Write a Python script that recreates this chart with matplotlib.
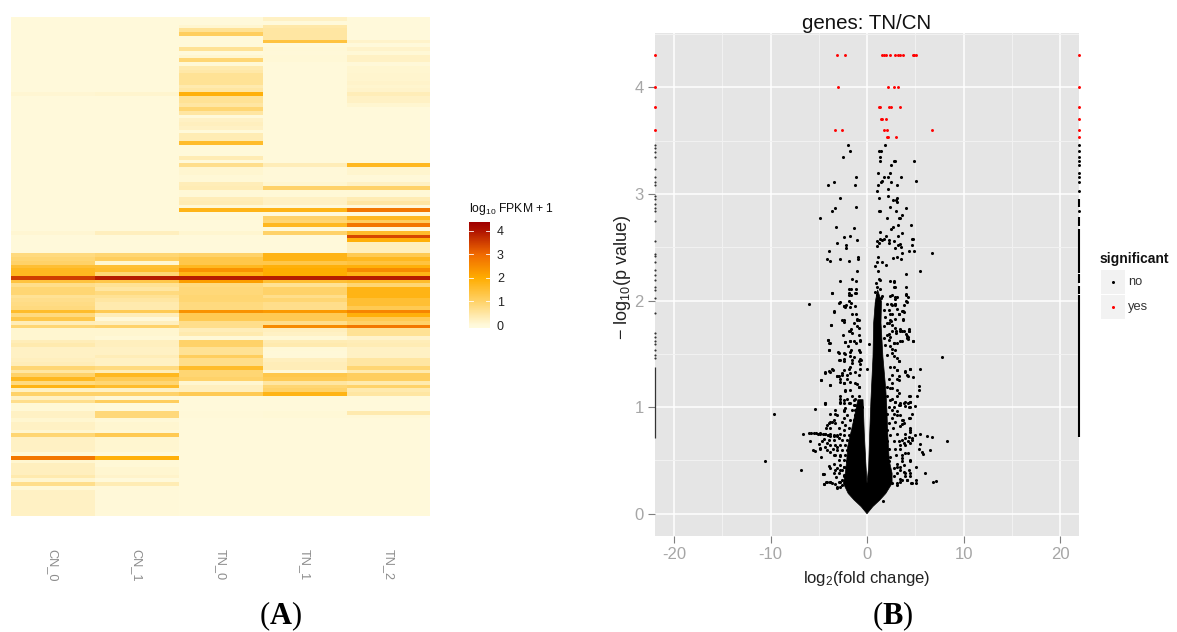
import matplotlib
matplotlib.use("Agg")
import matplotlib.pyplot as plt
import numpy as np
from matplotlib.colors import LinearSegmentedColormap, Normalize
from matplotlib.lines import Line2D
from matplotlib.patches import Rectangle

plt.rcParams["font.family"] = ["Liberation Sans", "DejaVu Sans"]
plt.rcParams["mathtext.fontset"] = "custom"
plt.rcParams["mathtext.rm"] = "Liberation Sans"
plt.rcParams["mathtext.bf"] = "Liberation Serif:bold"
plt.rcParams["mathtext.default"] = "regular"
plt.rcParams["axes.unicode_minus"] = False

# heatmap: log10 FPKM + 1, one list per sample, top row first
samples = ["CN_0", "CN_1", "TN_0", "TN_1", "TN_2"]
cn_0 = ([0] * 20 + [.08] + [0] * 36 + [.08] + [0] * 5 +
        [.8, .9, 1.0, 1.5, 1.7, 1.7, 3.5, 1.4, .7, .9, .9, .6, .7, .75, .8, 1.6, .8, 1.3, .3, .9,
         .1, .1, .1, .3, .4, .2, .2, .2, .25, .3, .9, .5, 1.0, 1.7, .8, 1.8, .2, 1.0, .2, .7,
         .05, .05, .2, .2, .1, .2, .2, .1, .9, .2, .2, .2, .2, .05, 2.8, .1, .25, .25, .25, .4,
         .1, .7, .05] + [.2] * 7)
cn_1 = ([0] * 20 + [.12] + [0] * 36 + [.25] + [0] * 5 +
        [.9, 1.1, .1, 1.5, 1.6, .9, 3.9, 1.3, .6, .5, .8, .6, .5, .4, .4, 1.2, .3, .03, .25, 1.0,
         .1, .1, .05, .25, .25, .2, .2, .3, .2, .2, .8, .3, 1.7, 1.2, .9, 1.6, .2, 1.0, .05, 1.1,
         0, 0, .85, .85, .05, .1, .1, .05, 1.2, .1, .1, .1, .1, 0, 1.9, .05, .05, .1, .1, .15,
         0, .35, .02] + [.02] * 7)
tn_0 = ([0, 0, .1, .6, 1.1, 0, 0, 0, .6, 0, .1, .9, .05, .4, .45, .6, .6, .6, .4, .5,
         1.9, .6, .6, .5, .9, .5, 0, .2, .25, .2, 0, .35, .35, 1.6, 0, 0, 0, .35, 0, .7,
         .1, .1, .05, .05, .3, .35, .05, .05, .3, .35, .05, 1.8, 0, .05, 0, 0, 0, .1] + [0] * 5 +
        [1.0, 1.3, 1.3, 1.7, 2.4, 1.8, 3.9, 2.2, .8, .85, .85, .9, .9, .8, .8, 2.4, 1.2, 1.2, .7, .7,
         .3, .4, .05, 1.0, 1.0, .6, .6, 1.1, .7, .7, 1.6, .9, .9, 1.0, .1, .25, .25, 1.2] +
        [0] * 4 + [.03, .03] + [0] * 26)
tn_1 = ([.2, 0, .45, .5, .5, .5, 1.4, 0, .05, .02, .05, .05] + [0] * 27 +
        [.3, .03, .03, .03, .03, .1, 1.0, .05, .05, .2, .2, 0, 1.8, 0, 1.0, .9, 1.7, 0, 1.0] + [0] * 5 +
        [1.8, 1.8, 1.3, 1.9, 2.0, 2.0, 3.9, 1.5, .6, 1.0, 1.0, .7, .9, .7, .7, 2.3, 1.2, 1.2, .7, 2.5,
         .25, .2, .05, .35, .4, .05, .02, .02, .25, .3, .3, .03, 1.3, 1.2, .5, .9, 1.0, 1.8] +
        [0] * 4 + [.04, .04] + [0] * 26)
tn_2 = ([0] * 6 + [.15, 0, .15, .05, .2, .2, .03, .1, .1, .12, .12, .15, .12, .15, .3, .2, .2, .1] + [0] * 15 +
        [1.7, .12, .12, .03, .03, .2, 1.0, .05, .05, .35, .5, 0, 2.8, 0, 1.7, 1.1, 2.8, 0, 1.6, 3.4, 1.9,
         .25, .25, .25] +
        [1.2, 1.7, 1.4, 1.9, 2.5, 1.8, 3.9, 1.6, .9, 1.8, 1.8, 1.8, 1.5, 1.5, 1.2, 2.6, 1.9, 1.2, 1.0, 2.8,
         .6, .6, .15, .3, .35, .2, .2, .2, .5, .5, .9, .4, 1.1, 1.1, .4, 1.0, .4, .5] +
        [0] * 4 + [.4, .05] + [0] * 26)
colour_values = [-.14, 0, 1, 2, 3, 4, 4.36]
colour_list = ["#FFFBDD", "#FFF9DA", "#FFD268", "#FFAC00", "#F06A00", "#B01400", "#A00000"]

# volcano: red points (significant), log2 fold change / -log10 p
sig_points = [(-3.07, 4.3), (-2.31, 4.3), (1.55, 4.3), (1.8, 4.3), (2.0, 4.3), (2.35, 4.3), (2.94, 4.3), (3.18, 4.3),
              (3.45, 4.3), (3.7, 4.3), (4.73, 4.3), (4.9, 4.3), (5.04, 4.3),
              (-2.97, 4.0), (2.18, 4.0), (2.76, 4.0), (3.18, 4.0),
              (1.2, 3.82), (1.38, 3.82), (2.28, 3.82), (2.5, 3.82), (3.42, 3.82),
              (1.42, 3.7), (1.59, 3.7), (1.93, 3.7),
              (-3.28, 3.6), (-2.63, 3.6), (1.73, 3.6), (2.04, 3.6), (6.7, 3.6),
              (2.04, 3.53), (2.21, 3.53), (2.97, 3.53),
              (-22, 4.3), (-22, 4.0), (-22, 3.82), (-22, 3.6),
              (22, 4.3), (22, 4.0), (22, 3.82), (22, 3.7), (22, 3.6), (22, 3.53)]

# volcano: black points that can be told apart
upper_left = [(-1.93, 3.46), (-1.73, 3.4), (-2.52, 3.35), (-1.17, 3.16), (-3.39, 3.11), (-4.08, 3.08), (-1.28, 3.08),
              (-2.83, 2.96), (-3.28, 2.87), (-3.63, 2.84), (-1.17, 2.88), (-4.87, 2.77), (-3.18, 2.69), (-1.38, 2.68),
              (-1.73, 2.61), (-2.38, 2.6), (-1.07, 2.57), (-3.07, 2.54), (-2.18, 2.52), (-2.18, 2.49), (-3.97, 2.46),
              (-4.18, 2.39), (-3.87, 2.37), (-2.83, 2.39), (-1.83, 2.37), (-.93, 2.41), (-.93, 2.39), (-1.04, 2.28),
              (-1.55, 2.2), (-2.8, 2.18), (-1.14, 2.18), (-1.87, 2.11), (-1.66, 2.11), (-1.14, 2.11), (-1.87, 2.07),
              (-1.14, 2.07), (-3.63, 2.07), (-1.62, 2.05), (-2.83, 1.99), (-2.42, 1.95), (-2.21, 1.96), (-1.69, 1.98),
              (-1.21, 1.95), (-6.04, 1.97)]
upper_right = [(1.87, 3.46), (1.21, 3.4), (1.42, 3.4), (1.31, 3.35), (1.31, 3.31), (2.83, 3.31), (2.52, 3.27), (1.17, 3.2),
               (2.42, 3.2), (1.73, 3.16), (2.14, 3.16), (1.55, 3.12), (1.42, 3.11), (2.52, 3.11), (1.11, 3.08), (3.07, 3.08),
               (2.18, 3.05), (1.07, 3.03), (1.21, 2.96), (2.21, 2.98), (2.66, 2.94), (3.07, 2.96), (3.07, 2.92), (1.21, 2.84),
               (1.38, 2.84), (2.42, 2.88), (3.04, 2.84), (2.04, 2.77), (3.39, 2.77), (1.35, 2.64), (2.69, 2.69), (2.49, 2.67),
               (3.21, 2.71), (1.93, 2.61), (1.31, 2.58), (1.04, 2.56), (1.55, 2.57), (1.8, 2.58), (2.25, 2.57), (2.76, 2.56),
               (3.18, 2.61), (1.04, 2.51), (1.24, 2.54), (2.31, 2.54), (3.18, 2.52), (2.94, 2.49), (1.11, 2.41), (1.04, 2.36),
               (1.55, 2.36), (1.97, 2.33), (3.11, 2.41), (2.69, 2.4), (.86, 2.32), (1.11, 2.28), (1.21, 2.2), (1.38, 2.19),
               (2.35, 2.18), (2.76, 2.18), (.93, 2.16), (1.04, 2.13), (1.38, 2.11), (.86, 2.08), (2.83, 2.13), (2.59, 2.05),
               (1.04, 2.05), (1.45, 2.02), (.97, 1.98), (1.21, 1.97), (2.49, 1.97), (2.94, 1.97), (1.14, 1.93),
               (2.87, 3.31), (4.9, 3.31), (3.52, 3.16), (5.11, 3.12), (3.04, 2.94), (4.08, 2.87), (3.66, 2.8), (3.32, 2.77),
               (4.56, 2.71), (3.66, 2.63), (4.7, 2.58), (4.8, 2.58), (4.66, 2.52), (3.45, 2.53), (3.52, 2.5), (4.32, 2.46),
               (4.87, 2.46), (6.7, 2.45), (3.66, 2.45), (3.52, 2.39), (5.46, 2.28), (4.08, 2.25), (2.76, 2.17), (2.87, 2.13),
               (4.08, 2.13), (4.08, 2.06), (4.21, 2.03), (4.08, 2.0), (2.94, 2.03), (3.11, 2.03), (2.87, 1.97), (3.77, 1.9),
               (3.32, 1.87), (3.77, 1.83), (2.87, 1.83), (2.52, 1.81), (2.63, 1.71), (3.45, 1.73), (4.32, 1.73), (3.59, 1.71),
               (2.97, 1.71), (4.08, 1.69), (4.21, 1.66)]
lower_left = [(-3.39, 1.9), (-3.73, 1.77), (-2.42, 1.82), (-1.04, 1.82), (-.86, 1.74), (-1.8, 1.71), (-1.55, 1.7), (-4.04, 1.63),
              (-3.9, 1.6), (-3.94, 1.54), (-2.31, 1.61), (-1.73, 1.62), (-.69, 1.62), (-3.01, 1.52), (-2.35, 1.51), (-1.66, 1.54),
              (-.86, 1.54), (-2.83, 1.44), (-.86, 1.43), (-.69, 1.45), (-1.8, 1.48), (-2.42, 1.43), (-1.55, 1.41), (-3.63, 1.36),
              (-3.97, 1.34), (-4.39, 1.33), (-1.73, 1.32), (-2.59, 1.3), (-3.11, 1.29), (-2.76, 1.26), (-.86, 1.3), (-1.28, 1.23),
              (-4.73, 1.25), (-3.8, 1.21), (-2.42, 1.23), (-2.25, 1.15), (-1.73, 1.24), (-.86, 1.19), (-2.76, 1.08), (-4.32, 1.03),
              (-5.42, .98), (-2.42, 1.04), (-1.38, 1.07), (-9.67, .94), (-3.28, .94), (-2.42, .97), (-1.21, .93), (-3.8, .86),
              (-4.15, .83), (-3.45, .88), (-2.42, .9), (-6.67, .75), (-5.98, .76), (-5.77, .76), (-5.53, .76), (-5.32, .76),
              (-5.11, .75), (-4.84, .755), (-4.32, .746), (-4.04, .74), (-3.8, .73), (-3.45, .733), (-3.11, .73), (-5.94, .68),
              (-5.63, .6), (-5.39, .586), (-5.01, .65), (-4.84, .62), (-4.77, .53), (-4.15, .6), (-3.8, .58), (-3.45, .55),
              (-3.11, .63), (-10.54, .49), (-6.87, .41), (-4.59, .37), (-4.49, .37), (-3.9, .45), (-4.42, .28), (-4.15, .3),
              (-3.8, .3), (-3.28, .41), (-3.45, .38), (-3.11, .24), (-2.76, .3), (-2.42, .44), (-2.76, .54), (-2.76, .41), (-2.42, .35)]
lower_right = [(7.81, 1.47), (5.46, 1.36), (4.49, 1.36), (3.97, 1.34), (4.15, 1.3), (4.77, 1.28), (3.11, 1.26), (5.42, 1.2),
               (5.35, 1.16), (5.18, 1.1), (4.32, 1.1), (4.49, 1.05), (4.97, 1.01), (3.8, 1.04), (3.28, 1.02), (3.45, .93),
               (4.66, .94), (4.32, .9), (3.73, .88), (3.63, .84), (4.49, .8), (4.49, .77), (3.11, 1.16), (3.11, 1.1), (3.8, 1.71),
               (4.32, 1.71), (3.63, 1.9), (3.8, 1.96), (4.15, 1.65), (4.77, 1.62), (3.45, 1.62), (2.76, 1.6), (3.11, 1.6),
               (2.59, 1.55), (2.76, 1.48), (3.28, 1.43), (2.42, 1.66), (2.94, 1.74), (2.25, 1.79), (2.59, 1.87), (3.11, 1.92),
               (2.42, 1.38), (3.11, 1.35), (2.59, 1.3), (2.07, 1.19), (2.59, 1.18), (2.42, 1.07), (2.76, .94), (3.11, .93),
               (5.46, .75), (6.22, .73), (6.77, .72), (8.26, .68), (6.56, .6), (5.01, .74), (4.32, .72), (3.97, .71), (4.66, .69),
               (5.53, .655), (5.35, .61), (5.7, .58), (5.77, .56), (3.8, .66), (3.45, .645), (3.97, .57), (3.63, .52), (5.11, .44),
               (4.49, .49), (3.8, .46), (4.32, .41), (6.01, .38), (5.11, .32), (5.11, .29), (6.8, .3), (7.12, .31), (4.66, .29),
               (4.15, .32), (3.45, .3), (3.97, .38), (3.45, .41), (3.11, .44), (4.49, .35), (3.63, .32), (3.11, .27)]
# second reading, from closer crops of the middle of the cloud
near_left_high = [(-3.63, 2.07), (-1.83, 2.05), (-1.21, 2.07), (-1.9, 2.0), (-2.87, 1.98), (-2.42, 1.95), (-2.25, 1.94), (-1.8, 1.94),
                  (-3.39, 1.89), (-1.55, 1.87), (-1.11, 1.87), (-1.04, 1.83), (-2.59, 1.82), (-2.42, 1.8), (-.86, 1.82), (-1.38, 1.79),
                  (-3.73, 1.77), (-1.04, 1.76), (-1.62, 1.73), (-1.9, 1.71), (-2.49, 1.68), (-.86, 1.68), (-.76, 1.63), (-4.08, 1.63),
                  (-3.87, 1.6), (-2.31, 1.61), (-1.8, 1.62), (-1.38, 1.62), (-1.11, 1.6), (.17, 1.59), (-2.0, 1.57), (-3.97, 1.54),
                  (-1.73, 1.52), (-.69, 1.52), (-2.94, 1.51), (-2.25, 1.5), (-1.38, 1.47), (-1.55, 1.44), (-2.94, 1.44), (-2.35, 1.45),
                  (-.62, 1.44), (-.69, 1.4), (-1.73, 1.38), (-1.9, 1.36), (0, 1.36), (-3.52, 1.35), (-3.8, 1.33), (-4.39, 1.32),
                  (-2.42, 1.35), (-2.59, 1.32), (-2.94, 1.29), (-3.11, 1.29), (-2.07, 1.3), (-1.21, 1.33), (-.69, 1.36), (-2.76, 1.24),
                  (-2.42, 1.23), (-2.07, 1.26), (-4.73, 1.25), (-3.8, 1.21), (-1.04, 1.22), (-.86, 1.19), (-2.25, 1.16), (-1.73, 1.16),
                  (-2.76, 1.1), (-2.42, 1.07), (-2.07, 1.08), (-1.55, 1.1), (-1.21, 1.08), (-.86, 1.1), (-.76, 1.05), (-4.32, 1.04),
                  (-2.76, 1.04), (-1.73, 1.04), (-1.21, 1.02), (-.52, 1.0), (-2.25, .99)]
near_right_high = [(2.42, 2.04), (2.94, 2.01), (4.08, 2.05), (4.15, 1.99), (2.07, 1.97), (2.59, 1.96), (2.94, 1.96), (2.25, 1.91),
                   (3.8, 1.89), (3.35, 1.87), (2.42, 1.87), (1.9, 1.85), (2.42, 1.82), (3.73, 1.82), (2.07, 1.79), (2.59, 1.77),
                   (4.32, 1.71), (3.45, 1.71), (3.04, 1.7), (2.25, 1.69), (4.15, 1.67), (2.07, 1.68), (4.21, 1.64), (4.77, 1.62),
                   (1.73, 1.65), (3.63, 1.62), (2.83, 1.6), (2.25, 1.63), (1.9, 1.58), (2.42, 1.57), (2.94, 1.54), (2.59, 1.51),
                   (2.07, 1.49), (3.11, 1.46), (3.35, 1.43), (2.76, 1.38), (4.42, 1.36), (3.11, 1.35), (3.97, 1.33), (4.21, 1.29),
                   (3.28, 1.29), (3.28, 1.25), (2.59, 1.23), (2.25, 1.26), (2.42, 1.18), (3.28, 1.13), (4.42, 1.1), (4.49, 1.05),
                   (2.94, 1.05), (3.97, 1.05), (3.45, 1.02), (2.59, 1.08), (2.07, 1.1), (4.32, 1.0), (2.76, 1.0), (3.97, 1.01),
                   (1.55, 2.04), (1.8, 1.91), (1.73, 1.76)]
near_left_low = [(-4.32, 1.04), (-2.76, 1.05), (-1.9, 1.04), (-1.38, 1.02), (-3.28, .97), (-3.11, .93), (-2.42, .96), (-2.07, .93),
                 (-3.8, .94), (-1.55, .97), (-1.21, .97), (-3.63, .86), (-3.97, .85), (-3.28, .85), (-2.59, .86), (-2.25, .83),
                 (-1.73, .88), (-1.38, .88), (-4.21, .8), (-3.8, .8), (-2.94, .8), (-2.42, .79), (-1.9, .8), (-4.84, .75), (-4.56, .75),
                 (-4.32, .75), (-4.08, .74), (-3.8, .745), (-3.45, .74), (-3.11, .74), (-2.76, .75), (-2.42, .74), (-1.9, .74),
                 (-4.42, .7), (-3.97, .69), (-3.45, .69), (-2.94, .71), (-2.59, .69), (-2.07, .69), (-4.66, .68), (-4.15, .66),
                 (-3.8, .645), (-3.28, .645), (-2.76, .645), (-2.25, .645), (-1.73, .68), (-4.84, .61), (-4.32, .63), (-3.52, .61),
                 (-3.11, .6), (-2.59, .6), (-2.07, .6), (-3.28, .55), (-2.76, .55), (-2.25, .55), (-1.9, .535), (-2.94, .5), (-2.42, .5),
                 (-2.07, .49), (-3.39, .47), (-2.76, .46), (-2.35, .44), (-3.8, .43), (-3.11, .43), (-2.59, .41), (-2.07, .43),
                 (-4.56, .37), (-2.94, .38), (-2.42, .36), (-3.18, .34), (-2.59, .32), (-3.87, .3), (-4.21, .3), (-4.42, .275),
                 (-3.63, .285), (-3.28, .28), (-2.94, .3), (-3.11, .25), (-2.59, .27), (-2.14, .3), (-2.76, .25)]
near_right_low = [(2.94, 1.05), (3.45, 1.04), (4.21, 1.04), (4.49, 1.0), (2.25, 1.0), (3.11, .96), (2.59, .97), (2.07, .94), (3.63, .88),
                  (2.59, .9), (3.8, .85), (2.94, .86), (4.49, .9), (2.25, .85), (3.45, .82), (2.69, .8), (2.07, .79), (4.49, .79),
                  (3.97, .75), (3.11, .75), (2.42, .74), (3.63, .69), (4.66, .71), (4.21, .68), (3.28, .68), (2.76, .68), (2.07, .68),
                  (3.97, .645), (3.45, .61), (2.94, .61), (2.25, .61), (4.49, .66), (3.63, .55), (3.04, .55), (2.42, .535), (1.9, .535),
                  (4.21, .57), (3.63, .49), (4.49, .5), (3.11, .47), (2.25, .49), (3.45, .44), (2.76, .43), (3.8, .39), (2.25, .41),
                  (3.11, .38), (4.42, .38), (3.97, .35), (3.45, .33), (2.76, .35), (4.56, .285), (4.15, .32), (3.11, .285), (2.59, .29),
                  (1.62, .12)]

# the core of the cloud is solid black, far too many genes to read one by one,
# so it is kept as an estimated outline of the mass
core_x = [0, -.6, -1.35, -1.95, -2.45, -2.25, -2.1, -2.0, -1.7, -1.3, -.95, -.41, -.28, -.1, 0,
          .17, .28, .41, .62, .69, .86, 1.1, 1.5, 1.45, 1.65, 1.95, 2.05, 2.15, 2.3, 2.6, 2.6, 1.95, 1.35, .6]
core_y = [0, .066, .13, .19, .285, .38, .5, .63, .75, .91, 1.07, 1.07, .75, .44, .285,
          .44, .75, 1.07, 1.47, 1.79, 1.99, 2.1, 1.99, 1.79, 1.47, 1.16, 1.0, .75, .5, .38, .285, .19, .13, .066]

# genes with an infinite fold change pile up on the panel edges
left_edge_y = [3.46, 3.43, 3.39, 3.35, 3.23, 3.16, 3.11, 3.08, 2.98, 2.95, 2.91, 2.87, 2.84, 2.75, 2.56, 2.44, 2.42, 2.36,
               2.29, 2.24, 2.19, 2.13, 2.1, 2.02, 1.88, 1.7, 1.66, 1.62, 1.59, 1.54, 1.49, 1.46]
left_run_low = [.715]
left_run_high = [1.38]
right_edge_y = [3.46, 3.4, 3.35, 3.31, 3.27, 3.2, 3.16, 3.11, 3.03, 2.84]
right_run_low = [.72, 2.16, 2.06, 2.26, 2.7, 2.88]
right_run_high = [2.05, 2.25, 2.14, 2.67, 2.78, 2.95]

WIDTH = 1177
HEIGHT = 632


def rect(left, top, right, bottom):
    return [left / WIDTH, 1 - bottom / HEIGHT, (right - left) / WIDTH, (bottom - top) / HEIGHT]


fig = plt.figure(figsize=(WIDTH / 100, HEIGHT / 100), dpi=100, facecolor="white")

# (A) heatmap
matrix = np.array([cn_0, cn_1, tn_0, tn_1, tn_2]).T
low, high = colour_values[0], colour_values[-1]
nodes = [(v - low) / (high - low) for v in colour_values]
cmap = LinearSegmentedColormap.from_list("fpkm", list(zip(nodes, colour_list)))
norm = Normalize(low, high)

ax1 = fig.add_axes(rect(10.5, 17, 430.5, 516))
mesh = ax1.pcolormesh(matrix, cmap=cmap, norm=norm)
ax1.invert_yaxis()
ax1.set_yticks([])
ax1.set_xticks(np.arange(len(samples)) + 0.5)
ax1.set_xticklabels(samples, rotation=-90, color="#8c8c8c", fontsize=9.2, va="top")
ax1.tick_params(axis="x", length=0, pad=24)
for spine in ax1.spines.values():
    spine.set_visible(False)

cax = fig.add_axes(rect(469, 222.3, 490, 328.3))
cbar = fig.colorbar(mesh, cax=cax)
cbar.outline.set_visible(False)
cbar.set_ticks([0, 1, 2, 3, 4])
cax.tick_params(axis="y", length=0, labelsize=9, labelcolor="#222222", pad=5)
for tick in [1, 2, 3, 4]:
    cax.plot([0, 0.2], [tick, tick], transform=cax.get_yaxis_transform(), color="white", lw=0.6)
    cax.plot([0.8, 1], [tick, tick], transform=cax.get_yaxis_transform(), color="white", lw=0.6)
fig.text(469 / WIDTH, 1 - 209 / HEIGHT, "log$_{10}$ FPKM + 1", fontsize=8.7, color="#111111", ha="left", va="center")

fig.text(280 / WIDTH, 1 - 616 / HEIGHT, r"($\mathbf{A}$)", fontsize=22, family="Liberation Serif",
         math_fontfamily="custom", ha="center", va="center")

# (B) volcano
ax2 = fig.add_axes(rect(654.7, 33.3, 1079.3, 536))
ax2.set_facecolor("#E5E5E5")
ax2.set_xlim(-22, 22)
ax2.set_ylim(-0.209, 4.507)
ax2.set_xticks([-20, -10, 0, 10, 20])
ax2.set_xticks([-15, -5, 5, 15], minor=True)
ax2.set_yticks([0, 1, 2, 3, 4])
ax2.set_yticks([.5, 1.5, 2.5, 3.5, 4.5], minor=True)
ax2.grid(which="major", color="white", lw=1.1)
ax2.grid(which="minor", color="#F2F2F2", lw=0.7)
ax2.set_axisbelow(True)
for spine in ax2.spines.values():
    spine.set_visible(False)
ax2.tick_params(which="minor", length=0)
ax2.tick_params(which="major", length=5, width=0.8, color="#7f7f7f", labelcolor="#a6a6a6", labelsize=12, pad=3)

no_points = (upper_left + upper_right + lower_left + lower_right +
             near_left_high + near_right_high + near_left_low + near_right_low)
no_x = [p[0] for p in no_points]
no_y = [p[1] for p in no_points]
sig_x = [p[0] for p in sig_points]
sig_y = [p[1] for p in sig_points]

ax2.fill(core_x, core_y, color="black", lw=0.5, zorder=3)
ax2.scatter(no_x, no_y, s=5, c="black", linewidths=0, zorder=3)
ax2.scatter(sig_x, sig_y, s=4.5, c="red", linewidths=0, zorder=3, clip_on=False)
ax2.scatter([-22] * len(left_edge_y), left_edge_y, s=2.4, c="#333333", linewidths=0, zorder=3, clip_on=False)
ax2.scatter([22] * len(right_edge_y), right_edge_y, s=4.5, c="black", linewidths=0, zorder=3, clip_on=False)
ax2.vlines([-22] * len(left_run_low), left_run_low, left_run_high, color="#333333", lw=0.9, zorder=3, clip_on=False)
ax2.vlines([22] * len(right_run_low), right_run_low, right_run_high, color="black", lw=1.5, zorder=3, clip_on=False)

ax2.set_xlabel("log$_{2}$(fold change)", fontsize=12, color="#222222", labelpad=5)
ax2.set_ylabel(r"$-$ log$_{10}$(p value)", fontsize=13, color="#222222", labelpad=1, y=0.515)
ax2.set_title("genes: TN/CN", fontsize=14.8, color="#111111", pad=-1)

# legend of panel B
fig.text(1100 / WIDTH, 1 - 259 / HEIGHT, "significant", fontsize=10, fontweight="bold", color="#111111", ha="left", va="center")
keys = [("no", "black", 270, 294.3), ("yes", "red", 295, 319)]
for label, colour, top, bottom in keys:
    fig.add_artist(Rectangle((1101 / WIDTH, 1 - bottom / HEIGHT), 24 / WIDTH, (bottom - top) / HEIGHT,
                             transform=fig.transFigure, facecolor="#F2F2F2", edgecolor="none"))
    mid = (top + bottom) / 2
    fig.add_artist(Line2D([1113 / WIDTH], [1 - mid / HEIGHT], transform=fig.transFigure, marker="o", ms=2.2, mew=0,
                          color=colour, ls="none"))
    fig.text(1128 / WIDTH, 1 - mid / HEIGHT, label, fontsize=9.3, color="#333333", ha="left", va="center")

fig.text(893 / WIDTH, 1 - 616 / HEIGHT, r"($\mathbf{B}$)", fontsize=22, family="Liberation Serif",
         math_fontfamily="custom", ha="center", va="center")

fig.savefig("out.png", dpi=100)
